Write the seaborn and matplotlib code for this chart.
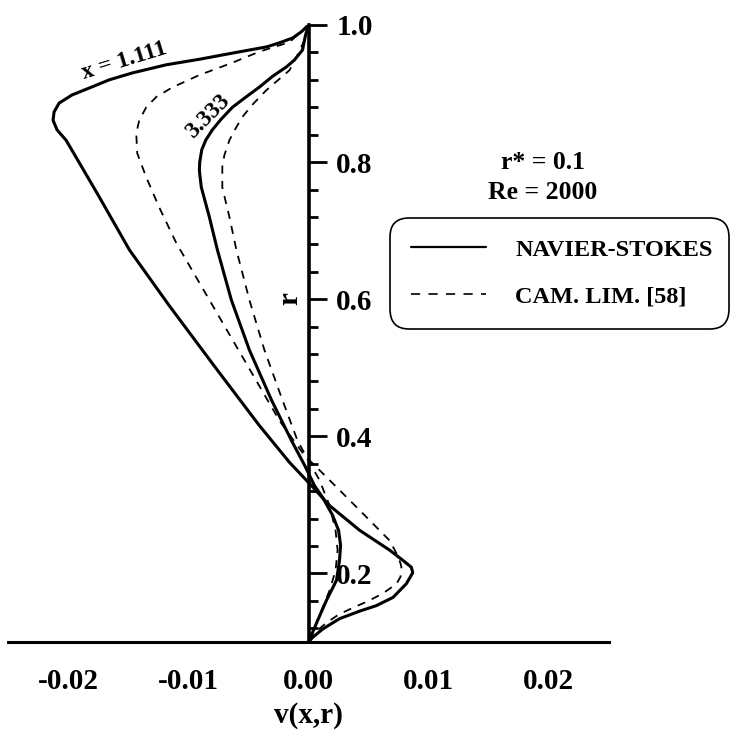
import numpy as np
import pandas as pd
import matplotlib
matplotlib.use("Agg")
import matplotlib.pyplot as plt
from matplotlib.lines import Line2D
from matplotlib.ticker import FixedLocator, MultipleLocator, FuncFormatter
import seaborn as sns

# Radial velocity profiles v(x, r), r* = 0.1, Re = 2000
# Navier-Stokes solution at x = 1.111
r_ns_1 = [1.000, 0.990, 0.981, 0.974, 0.968, 0.959, 0.950, 0.942, 0.930, 0.920,
          0.908, 0.898, 0.886, 0.873, 0.861, 0.847, 0.832, 0.800, 0.752, 0.672,
          0.591, 0.504, 0.416, 0.362, 0.328, 0.299, 0.263, 0.234, 0.219, 0.209,
          0.201, 0.185, 0.165, 0.153, 0.145, 0.134, 0.119, 0.107, 0.100]
v_ns_1 = [0.0, -0.0006, -0.00133, -0.00242, -0.0035, -0.00633, -0.00908, -0.01183,
          -0.01467, -0.01658, -0.01825, -0.01967, -0.02075, -0.02117, -0.02125,
          -0.02092, -0.02017, -0.0191, -0.0175, -0.0149, -0.0116, -0.0079,
          -0.0041, -0.00158, 0.00025, 0.00175, 0.00425, 0.00675, 0.00786,
          0.00856, 0.00867, 0.00814, 0.00703, 0.00564, 0.00425, 0.00258, 0.00119,
          0.00036, 0.0]

# Boundary-layer (CAM. LIM.) solution at x = 1.111
r_cl_1 = [1.000, 0.988, 0.975, 0.961, 0.945, 0.927, 0.909, 0.895, 0.880, 0.861,
          0.842, 0.813, 0.778, 0.734, 0.682, 0.599, 0.511, 0.423, 0.372, 0.355,
          0.326, 0.282, 0.248, 0.229, 0.215, 0.207, 0.195, 0.185, 0.171, 0.160,
          0.150, 0.140, 0.128, 0.115, 0.100]
v_cl_1 = [0.0, -0.00075, -0.00158, -0.0041, -0.00633, -0.00908, -0.01133, -0.01267,
          -0.0135, -0.01408, -0.01433, -0.01425, -0.0135, -0.01242, -0.011,
          -0.00825, -0.00533, -0.00242, -0.00033, 0.00067, 0.00233, 0.00483,
          0.00675, 0.00733, 0.00765, 0.00775, 0.00765, 0.00733, 0.0062, 0.0050,
          0.0037, 0.0025, 0.0015, 0.0006, 0.0]

# Navier-Stokes solution at x = 3.333
r_ns_3 = [1.000, 0.985, 0.9635, 0.949, 0.939, 0.925, 0.9095, 0.895, 0.880, 0.862,
          0.847, 0.832, 0.818, 0.800, 0.788, 0.7635, 0.720, 0.672, 0.599, 0.526,
          0.453, 0.394, 0.358, 0.328, 0.311, 0.285, 0.263, 0.241, 0.219, 0.190,
          0.161, 0.131, 0.100]
v_ns_3 = [0.0, -0.00025, -0.0005, -0.00117, -0.00183, -0.0030, -0.00408, -0.0052,
          -0.00633, -0.0073, -0.0080, -0.00855, -0.00888, -0.00905, -0.00908,
          -0.00892, -0.00825, -0.00758, -0.00642, -0.00492, -0.00308, -0.00142,
          -0.00033, 0.0005, 0.00117, 0.0020, 0.0025, 0.00267, 0.00258, 0.00233,
          0.0015, 0.00075, 0.0]

# Boundary-layer (CAM. LIM.) solution at x = 3.333
r_cl_3 = [1.000, 0.978, 0.956, 0.934, 0.905, 0.885, 0.866, 0.848, 0.832, 0.810,
          0.793, 0.763, 0.720, 0.672, 0.599, 0.526, 0.453, 0.394, 0.362, 0.336,
          0.299, 0.263, 0.234, 0.204, 0.175, 0.139, 0.100]
v_cl_3 = [0.0, -0.00033, -0.00092, -0.00158, -0.0035, -0.0046, -0.0055, -0.0061,
          -0.00658, -0.0070, -0.00717, -0.00717, -0.00658, -0.0060, -0.00492,
          -0.00367, -0.00217, -0.00092, 0.00008, 0.00092, 0.00175, 0.00225,
          0.00242, 0.00225, 0.00175, 0.00092, 0.0]

x_ticks = [-0.02, -0.01, 0.00, 0.01, 0.02]
y_ticks = [0.2, 0.4, 0.6, 0.8, 1.0]
legend_labels = ["NAVIER-STOKES", "CAM. LIM. [58]"]

sns.set_style("white")
plt.rcParams["font.family"] = ["Liberation Serif", "DejaVu Serif"]
plt.rcParams["font.weight"] = "bold"
for key in ["text.color", "axes.labelcolor", "xtick.color", "ytick.color", "axes.edgecolor"]:
    plt.rcParams[key] = "black"

fig = plt.figure(figsize=(7.32, 7.38), dpi=100)
ax = fig.add_axes([8 / 732, 1 - 642 / 738, 601 / 732, 617 / 738])

solid = dict(color="black", linewidth=2.2, linestyle="-")
dashed = dict(color="black", linewidth=1.3, linestyle=(0, (4.5, 4.0)))

for r, v, style in [(r_ns_1, v_ns_1, solid), (r_cl_1, v_cl_1, dashed),
                    (r_ns_3, v_ns_3, solid), (r_cl_3, v_cl_3, dashed)]:
    df = pd.DataFrame({"v": v, "r": r})
    sns.lineplot(data=df, x="v", y="r", sort=False, estimator=None, ax=ax, **style)
for line in ax.get_lines():
    line.set_solid_joinstyle("round")
    line.set_dash_joinstyle("round")

ax.set_xlim(-0.025, 0.025)
ax.set_ylim(0.1, 1.0)

# Axes: bottom axis plus a vertical axis through v = 0 with ticks on its right
ax.spines["top"].set_visible(False)
ax.spines["left"].set_visible(False)
ax.spines["right"].set_position(("data", 0.0))
ax.spines["right"].set_linewidth(2.6)
ax.spines["bottom"].set_linewidth(2.2)
ax.yaxis.set_ticks_position("right")

ax.xaxis.set_major_locator(FixedLocator(x_ticks))
ax.xaxis.set_minor_locator(MultipleLocator(0.005))
ax.xaxis.set_major_formatter(FuncFormatter(lambda val, pos: f"{val:.2f}".replace("-0.00", "0.00")))
ax.yaxis.set_major_locator(FixedLocator(y_ticks))
ax.yaxis.set_minor_locator(MultipleLocator(0.04))
ax.yaxis.set_major_formatter(FuncFormatter(lambda val, pos: f"{val:.1f}"))

ax.tick_params(axis="x", which="major", direction="out", length=13, width=2.0,
               labelsize=21, pad=6)
ax.tick_params(axis="x", which="minor", direction="out", length=6.5, width=2.0)
ax.tick_params(axis="y", which="major", direction="out", length=13, width=2.0,
               labelsize=21, pad=7)
ax.tick_params(axis="y", which="minor", direction="out", length=6.5, width=2.0)
for lab in ax.get_xticklabels() + ax.get_yticklabels():
    lab.set_fontweight("bold")

ax.set_xlabel("v(x,r)", fontsize=21, fontweight="bold", labelpad=5)
ax.set_ylabel("")
ax.text(-0.0016, 0.601, "r", rotation=90, fontsize=21, fontweight="bold",
        ha="center", va="center")

# Curve annotations
ax.text(-0.0153, 0.948, "x = 1.111", rotation=17, fontsize=17, fontweight="bold",
        ha="center", va="center")
ax.text(-0.0084, 0.866, "3.333", rotation=45, fontsize=17, fontweight="bold",
        ha="center", va="center")

# Parameters
ax.text(0.0195, 0.800, "r* = 0.1", fontsize=18.5, fontweight="bold", ha="center", va="center")
ax.text(0.0195, 0.755, "Re = 2000", fontsize=18.5, fontweight="bold", ha="center", va="center")

handles = [Line2D([], [], color="black", linewidth=1.6, linestyle="-"),
           Line2D([], [], color="black", linewidth=1.2, linestyle=(0, (5.5, 5.0)))]
leg = fig.legend(handles, legend_labels, loc="upper left",
                 bbox_to_anchor=(390 / 732, 1 - 337 / 738, 339 / 732, 119 / 738),
                 mode="expand", prop={"weight": "bold", "size": 17.5},
                 frameon=True, fancybox=True, handlelength=3.1, handletextpad=1.2,
                 borderpad=0.86, labelspacing=1.03, borderaxespad=0.0)
frame = leg.get_frame()
frame.set_edgecolor("black")
frame.set_linewidth(1.2)
frame.set_facecolor("white")
frame.set_alpha(1.0)
frame.set_boxstyle("round", pad=0, rounding_size=0.8)

fig.savefig("out.png", dpi=100)
